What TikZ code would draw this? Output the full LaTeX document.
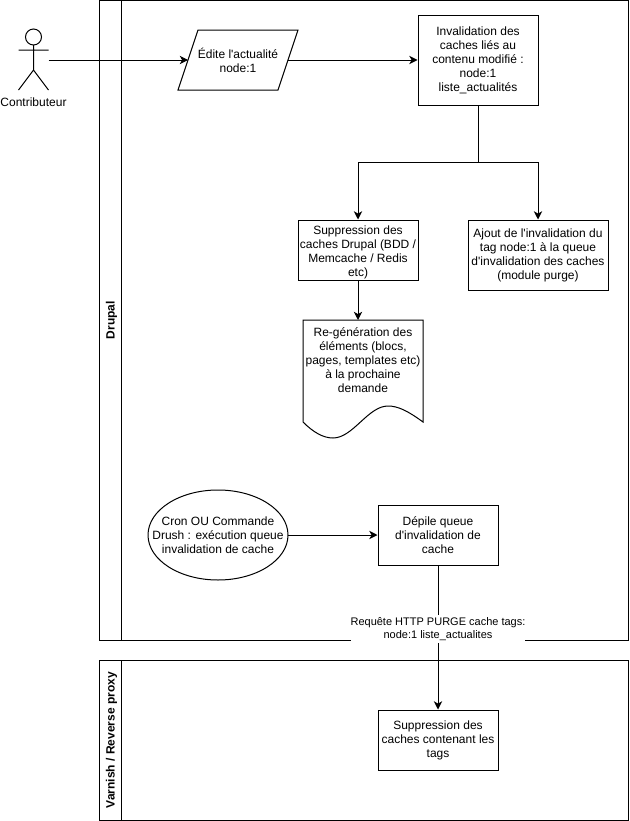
\documentclass[tikz,border=0pt]{standalone}
\usepackage{fontspec}
\setmainfont{Liberation Sans}[Ligatures=TeXOff]
\usetikzlibrary{arrows.meta,positioning,calc}
\tikzset{
  every node/.style={font=\fontsize{9pt}{10.5pt}\selectfont},
  shape line/.style={draw=black,line width=0.75pt,fill=white},
  boxnode/.style={shape line,rectangle,align=center,inner sep=0pt},
  lane/.style={draw=black,line width=0.75pt},
  lanetitle/.style={font=\fontsize{9pt}{10.5pt}\selectfont\bfseries,rotate=90},
  conn/.style={draw=black,line width=0.75pt},
  arrowconn/.style={conn,-{Stealth[length=6.2pt,width=6.2pt,inset=1.8pt]}},
}
\begin{document}
\begin{tikzpicture}[x=0.75pt,y=-0.75pt]
\useasboundingbox (0,0) rectangle (629,821);
% lanes
\draw[lane] (99,0.5) rectangle (628.5,640);
\draw[lane] (121,0.5) -- (121,640);
\draw[lane] (99,660) rectangle (628.5,820);
\draw[lane] (121,660) -- (121,820);
\node[lanetitle] (drupal) at (111.5,320) {Drupal};
\node[lanetitle] (varnish) at (111.5,740) {Varnish / Reverse proxy};
% actor
\draw[conn] (33.5,37) circle (8);
\draw[conn] (33.5,45) -- (33.5,70) (18.5,50) -- (48.5,50) (18.5,90) -- (33.5,70) -- (48.5,90);
\coordinate (actor) at (48.5,60);
\node (actorlabel) at (33.5,102.5) {Contributeur};
% parallelogram
\draw[shape line] (198,30) -- (298,30) -- (278,90) -- (178,90) -- cycle;
\coordinate (editL) at (188,60);
\coordinate (editR) at (288,60);
\node[align=center] (edit) at (238,60.5) {Édite l'actualité\\node:1};
% boxes
\node[boxnode,minimum width=90pt,minimum height=67.5pt] (inval) at (478,60) {Invalidation des\\caches liés au\\contenu modifié :\\node:1\\liste\_actualités};
\node[boxnode,minimum width=90pt,minimum height=45pt] (suppr) at (358,250) {};
\node[align=center] (supprtext) at (358,252) {Suppression des\\caches Drupal (BDD /\\Memcache / Redis\\etc)};
\node[boxnode,minimum width=105pt,minimum height=52.5pt] (ajout) at (538,255) {Ajout de l'invalidation du\\tag node:1 à la queue\\d'invalidation des caches\\(module purge)};
% document
\draw[shape line] (303,320) -- (423,320) -- (423,422)
  .. controls (408,411) and (398,406) .. (388,406)
  .. controls (368,406) and (353,438) .. (333,438)
  .. controls (323,438) and (313,432) .. (303,422) -- cycle;
\coordinate (docT) at (358,320);
\node[align=center] (doc) at (363,360) {Re-génération des\\éléments (blocs,\\pages, templates etc)\\à la prochaine\\demande};
% cron
\draw[shape line] (218,535) ellipse (70 and 45);
\coordinate (cronR) at (288,535);
\node[align=center] (cron) at (218,535) {Cron OU Commande\\Drush : exécution queue\\invalidation de cache};
\node[boxnode,minimum width=90pt,minimum height=45pt] (depile) at (438,535) {Dépile queue\\d'invalidation de\\cache};
\node[boxnode,minimum width=90pt,minimum height=45pt] (supprtags) at (438,740) {Suppression des\\caches contenant les\\tags};
% connectors
\draw[arrowconn] (actor) -- (editL);
\draw[arrowconn] (editR) -- (inval.west);
\coordinate (split) at (478,162);
\draw[arrowconn] (inval.south) -- (split) -| (suppr.north);
\draw[arrowconn] (split) -| (ajout.north);
\draw[arrowconn] (suppr.south) -- (docT);
\draw[arrowconn] (cronR) -- (depile.west);
\draw[arrowconn] (depile.south) -- (supprtags.north)
  node[pos=0.441,fill=white,align=center,inner xsep=0pt,inner ysep=0pt,minimum width=130pt,minimum height=20.5pt,font=\fontsize{8.25pt}{10pt}\selectfont] (purge) {Requête HTTP PURGE cache tags:\\node:1 liste\_actualites};
\end{tikzpicture}
\end{document}
